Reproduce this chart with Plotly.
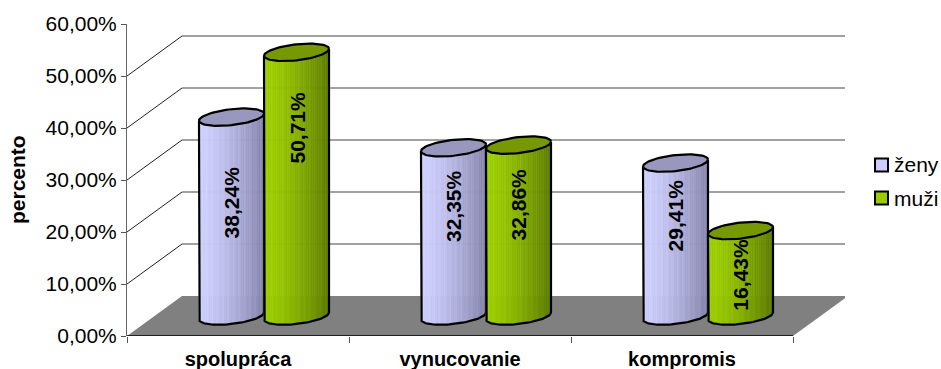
import math
import plotly.graph_objects as go

categories = ["spolupráca", "vynucovanie", "kompromis"]
zeny = [38.24, 32.35, 29.41]
muzi = [50.71, 32.86, 16.43]
y_ticks = [0, 10, 20, 30, 40, 50, 60]
label_heights_zeny = [25.6, 24.9, 23.1]
label_heights_muzi = [40.0, 25.2, 11.7]

# Pixel scale of the plot area
PX_X = 222.0      # pixels per category
PX_Y = 5.2        # pixels per percentage point
DEPTH_X = 55 / PX_X
DEPTH_Y = 40 / PX_Y
BASE = 20 / PX_Y  # cylinders stand part-way back on the floor
RADIUS_X = 32.5 / PX_X
RADIUS_Y = 8.0 / PX_Y
TILT = 3.5 / PX_Y
OFFSETS = {"zeny": 104.5 / PX_X, "muzi": 169.5 / PX_X}
STRIPS = 36

LAVENDER = ((208, 208, 255), (132, 132, 172), (152, 152, 190))
GREEN = ((158, 208, 0), (92, 122, 0), (118, 152, 0))


def ring(cx, cy, t):
    return (cx + RADIUS_X * math.cos(t),
            cy - RADIUS_Y * math.sin(t) + TILT * math.cos(t))


def front_y(cx, cy, x):
    u = max(-1.0, min(1.0, (x - cx) / RADIUS_X))
    return ring(cx, cy, math.acos(u))[1]


def mix(a, b, k):
    return tuple(round(a[i] + (b[i] - a[i]) * k) for i in range(3))


def rgb(c):
    return f"rgb({c[0]},{c[1]},{c[2]})"


def add_poly(fig, xs, ys, fill=None, line=None, width=0):
    fig.add_trace(go.Scatter(
        x=xs, y=ys, mode="lines", fill="toself" if fill else "none",
        fillcolor=fill, line=dict(color=line or "rgba(0,0,0,0)", width=width),
        hoverinfo="skip", showlegend=False))


def add_cylinder(fig, cx, value, palette):
    light, dark, cap = palette
    bottom = BASE
    top = BASE + value
    # Shaded body built from narrow vertical strips, with a soft streak pattern
    for i in range(STRIPS):
        x0 = cx - RADIUS_X + 2 * RADIUS_X * i / STRIPS
        x1 = cx - RADIUS_X + 2 * RADIUS_X * (i + 1) / STRIPS
        k = ((i + 0.5) / STRIPS) ** 1.4
        if i % 3 == 1:
            k = max(0, k - 0.07)
        color = rgb(mix(light, dark, k))
        add_poly(fig,
                 [x0, x1, x1, x0, x0],
                 [front_y(cx, bottom, x0), front_y(cx, bottom, x1),
                  front_y(cx, top, x1), front_y(cx, top, x0),
                  front_y(cx, bottom, x0)],
                 fill=color, line=color, width=0.6)
    # Body outline: both sides and the front edge of the base
    lower = [ring(cx, bottom, math.pi - math.pi * j / 48) for j in range(49)]
    add_poly(fig,
             [ring(cx, top, math.pi)[0]] + [p[0] for p in lower] + [ring(cx, top, 0)[0]],
             [ring(cx, top, math.pi)[1]] + [p[1] for p in lower] + [ring(cx, top, 0)[1]],
             line="black", width=2.2)
    # Top cap
    full = [2 * math.pi * j / 72 for j in range(73)]
    add_poly(fig,
             [ring(cx, top, t)[0] for t in full],
             [ring(cx, top, t)[1] for t in full],
             fill=rgb(cap), line="black", width=2.2)


fig = go.Figure()

# Back wall gridlines and their diagonal returns on the side wall
for v in y_ticks[1:-1]:
    add_poly(fig, [DEPTH_X, 3 + DEPTH_X], [v + DEPTH_Y, v + DEPTH_Y], line="#444444", width=1.2)
    add_poly(fig, [0, DEPTH_X], [v, v + DEPTH_Y], line="#222222", width=1)

# Floor
add_poly(fig,
         [0, 3, 3 + DEPTH_X, DEPTH_X, 0],
         [0, 0, DEPTH_Y, DEPTH_Y, 0],
         fill="#808080")
add_poly(fig, [0, 3], [0, 0], line="black", width=1.5)

for k in range(len(categories)):
    add_cylinder(fig, k + OFFSETS["zeny"], zeny[k], LAVENDER)
    add_cylinder(fig, k + OFFSETS["muzi"], muzi[k], GREEN)


def pct(v):
    return f"{v:.2f}%".replace(".", ",")


annotations = []
for k in range(len(categories)):
    for val, h, off in ((zeny[k], label_heights_zeny[k], OFFSETS["zeny"]),
                        (muzi[k], label_heights_muzi[k], OFFSETS["muzi"])):
        annotations.append(dict(
            x=k + off, y=h, text=f"<b>{pct(val)}</b>", textangle=-90,
            showarrow=False, font=dict(size=21, color="black")))

# Legend swatches and labels, placed right of the plot
AREA_W, AREA_H = 718.0, 312.0
shapes = []
for name, color, py in (("ženy", "#ccccff", 165), ("muži", "#99cc00", 198)):
    shapes.append(dict(
        type="rect", xref="paper", yref="paper",
        x0=(875 - 127) / AREA_W, x1=(888 - 127) / AREA_W,
        y0=(336 - py - 6.5) / AREA_H, y1=(336 - py + 6.5) / AREA_H,
        fillcolor=color, line=dict(color="black", width=2)))
    annotations.append(dict(
        xref="paper", yref="paper", x=(892 - 127) / AREA_W, y=(336 - py) / AREA_H,
        text=name, showarrow=False, xanchor="left", yanchor="middle",
        font=dict(size=21, color="black")))

annotations.append(dict(
    xref="paper", yref="paper", x=(17 - 127) / AREA_W, y=(336 - 180) / AREA_H,
    text="<b>percento</b>", textangle=-90, showarrow=False, xanchor="center",
    font=dict(size=21, color="black")))

fig.update_layout(
    width=941, height=369,
    margin=dict(l=127, r=96, t=24, b=33, autoexpand=False),
    paper_bgcolor="white", plot_bgcolor="white",
    showlegend=False,
    font=dict(family="Liberation Sans, Arial, sans-serif", color="black"),
    shapes=shapes, annotations=annotations,
    xaxis=dict(
        automargin=False,
        range=[0, AREA_W / PX_X], showgrid=False, zeroline=False, showline=False,
        tickvals=[k + 0.5 for k in range(len(categories))],
        ticktext=[f"<b>{c}</b>" for c in categories],
        ticks="", tickfont=dict(size=20), ticklabelstandoff=9,
        minor=dict(tickvals=list(range(len(categories) + 1)), ticks="outside",
                   ticklen=6, tickcolor="#555555", tickwidth=1),
    ),
    yaxis=dict(
        automargin=False,
        range=[0, 60], showgrid=False, zeroline=False, showline=True,
        linecolor="#666666", linewidth=1,
        tickvals=y_ticks, ticktext=[pct(v) for v in y_ticks],
        ticks="outside", ticklen=5, tickcolor="#555555",
        tickfont=dict(size=21),
    ),
)

fig.write_html("out.html", config=dict(displayModeBar=False))
